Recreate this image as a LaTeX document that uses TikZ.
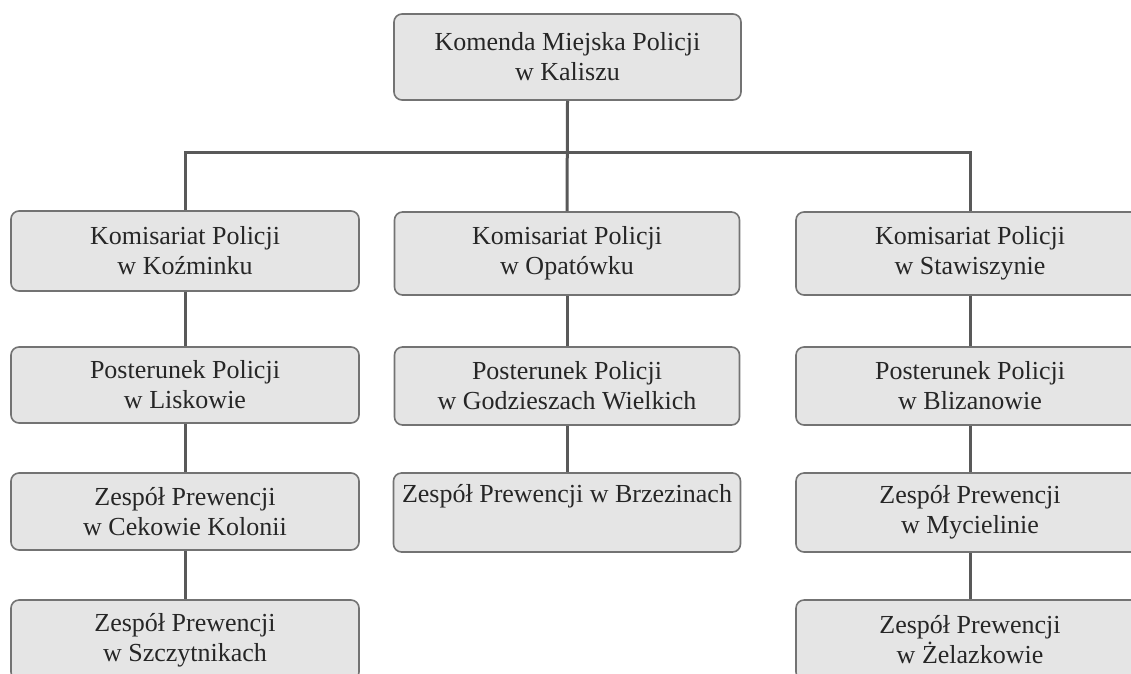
\documentclass[tikz,border=0pt]{standalone}
\usepackage{fontspec}
\setmainfont{Liberation Serif}
\begin{document}
\begin{tikzpicture}[x=1pt,y=-1pt,
  orgbox/.style={draw=black!55, line width=1.6pt, fill=black!10, rounded corners=8pt,
    minimum width=348pt, minimum height=80pt, align=center, text=black!85,
    font=\fontsize{26pt}{30pt}\selectfont, inner sep=0pt},
  link/.style={draw=black!65, line width=3pt}]
\useasboundingbox (0,0) rectangle (1131,673);
\node[orgbox, minimum width=347pt, minimum height=86pt] (top) at (567.5,57) {Komenda Miejska Policji\\w Kaliszu};
% left column
\node[orgbox] (l1) at (185,251) {Komisariat Policji\\w Koźminku};
\node[orgbox, minimum height=76pt] (l2) at (185,385) {Posterunek Policji\\w Liskowie};
\node[orgbox, minimum height=77pt] (l3) at (185,511.5) {Zespół Prewencji\\w Cekowie Kolonii};
\node[orgbox] (l4) at (185,640) {Zespół Prewencji\\w Szczytnikach};
% middle column
\node[orgbox, minimum width=345pt, minimum height=83pt] (m1) at (567,253.5) {Komisariat Policji\\w Opatówku};
\node[orgbox, minimum width=345pt, minimum height=78pt] (m2) at (567,386) {Posterunek Policji\\w Godzieszach Wielkich};
\node[orgbox, minimum width=347pt, minimum height=79pt] (m3) at (567,512.5) {Zespół Prewencji w Brzezinach\\ \strut};
% right column
\node[orgbox, minimum height=83pt] (r1) at (970,253.5) {Komisariat Policji\\w Stawiszynie};
\node[orgbox, minimum height=78pt] (r2) at (970,386) {Posterunek Policji\\w Blizanowie};
\node[orgbox, minimum height=79pt] (r3) at (970,512.5) {Zespół Prewencji\\w Mycielinie};
\node[orgbox] (r4) at (970,640) {Zespół Prewencji\\w Żelazkowie};
% connectors
\coordinate (bar) at (567,152);
\draw[link] (top.south) -- (m1.north);
\draw[link] (l1.north) -- (l1.north |- bar) -- (r1.north |- bar) -- (r1.north);
\draw[link] (l1.south) -- (l2.north);
\draw[link] (l2.south) -- (l3.north);
\draw[link] (l3.south) -- (l4.north);
\draw[link] (m1.south) -- (m2.north);
\draw[link] (m2.south) -- (m3.north);
\draw[link] (r1.south) -- (r2.north);
\draw[link] (r2.south) -- (r3.north);
\draw[link] (r3.south) -- (r4.north);
\end{tikzpicture}
\end{document}
